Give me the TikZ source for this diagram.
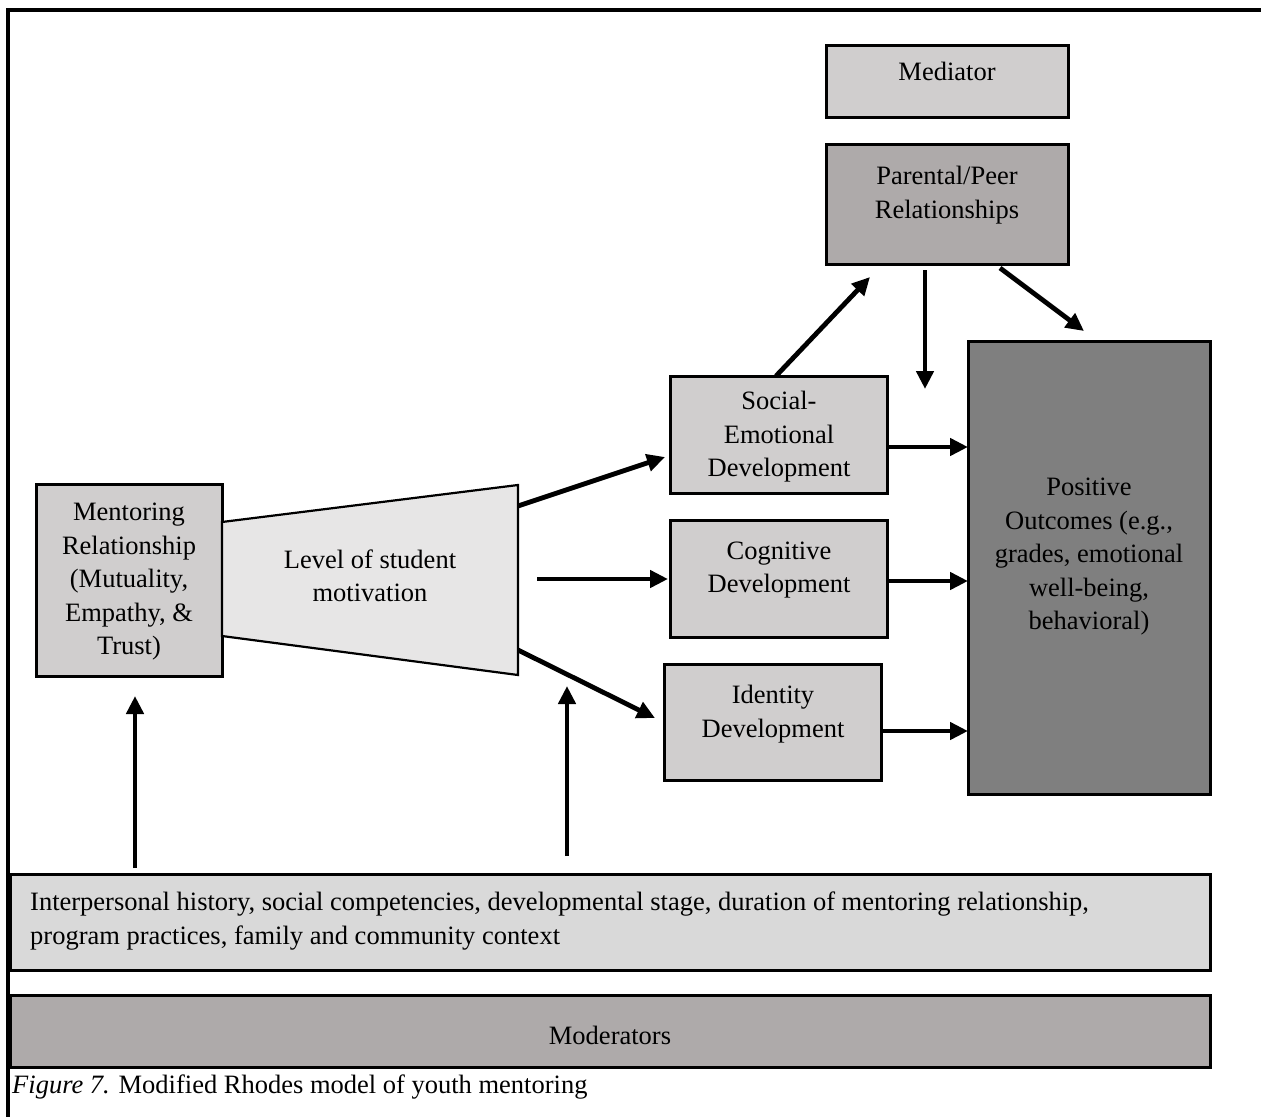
\documentclass[tikz,border=0pt]{standalone}
\usepackage{fontspec}
\setmainfont{Liberation Serif}
\usetikzlibrary{arrows.meta}
\definecolor{lightbox}{HTML}{D0CECE}
\definecolor{midbox}{HTML}{AEAAAA}
\definecolor{darkbox}{HTML}{7F7F7F}
\definecolor{trapfill}{HTML}{E7E6E6}
\definecolor{interfill}{HTML}{D9D9D9}
\begin{document}
\begin{tikzpicture}[x=1pt,y=-1pt,
  boxline/.style={draw=black,line width=3pt},
  txt/.style={inner sep=0pt,align=center,font=\fontsize{26.5}{33.5}\selectfont},
  arr/.style={line width=4.8pt,-{Triangle[length=18pt,width=17pt]}},
  frameline/.style={line width=3.2pt}]
\useasboundingbox (0,0) rectangle (1261,1117);
% frame
\coordinate (ftr) at (1261,10);
\coordinate (ftl) at (8,10);
\coordinate (fbl) at (8,1117);
\draw[frameline] (ftr) -- (ftl) -- (fbl);
% boxes
\draw[boxline,fill=lightbox] (826,45) rectangle (1068,117);
\draw[boxline,fill=midbox] (826,144) rectangle (1068,264);
\draw[boxline,fill=darkbox] (968,341) rectangle (1210,794);
\draw[boxline,fill=lightbox] (670,376) rectangle (887,493);
\draw[boxline,fill=lightbox] (670,520) rectangle (887,637);
\draw[boxline,fill=lightbox] (664,664) rectangle (881,780);
\draw[boxline,fill=lightbox] (36,484) rectangle (222,676);
\draw[boxline,line width=2.2pt,fill=trapfill] (222,522) -- (518,485) -- (518,675) -- (222,636) -- cycle;
\draw[boxline,fill=interfill] (10,874) rectangle (1210,970);
\draw[boxline,fill=midbox] (10,995) rectangle (1210,1067);
% texts
\node[txt] (med) at (947,71) {Mediator};
\node[txt] (par) at (947,195) {Parental/Peer\\Relationships};
\node[txt] (pos) at (1089,557) {Positive\\Outcomes (e.g.,\\grades, emotional\\well-being,\\behavioral)};
\node[txt] (soc) at (779,437) {Social-\\Emotional\\Development};
\node[txt] (cog) at (779,570) {Cognitive\\Development};
\node[txt] (idn) at (773,714) {Identity\\Development};
\node[txt] (men) at (129,582) {Mentoring\\Relationship\\(Mutuality,\\Empathy, \&\\Trust)};
\node[txt] (lev) at (370,576) {Level of student\\motivation};
\node[txt,align=left,anchor=west] (int) at (30,921) {Interpersonal history, social competencies, developmental stage, duration of mentoring relationship,\\program practices, family and community context};
\node[txt] (mod) at (610,1035) {Moderators};
\node[txt,anchor=west] (cap) at (12,1087) {\textit{Figure 7.} Modified Rhodes model of youth mentoring};
% arrow end points
\coordinate (a1s) at (518,506); \coordinate (a1e) at (665,457);
\coordinate (a2s) at (537,579); \coordinate (a2e) at (668,579);
\coordinate (a3s) at (518,650); \coordinate (a3e) at (655,718);
\coordinate (a4s) at (776,376); \coordinate (a4e) at (870,277);
\coordinate (a5s) at (925,270); \coordinate (a5e) at (925,389);
\coordinate (a6s) at (1000,268); \coordinate (a6e) at (1084,331);
\coordinate (a7s) at (887,447); \coordinate (a7e) at (968,447);
\coordinate (a8s) at (887,581); \coordinate (a8e) at (968,581);
\coordinate (a9s) at (881,731); \coordinate (a9e) at (968,731);
\coordinate (a10s) at (135,868); \coordinate (a10e) at (135,696);
\coordinate (a11s) at (567,856); \coordinate (a11e) at (567,686);
\foreach \i in {1,...,11} {\draw[arr] (a\i s) -- (a\i e);}
\end{tikzpicture}
\end{document}
